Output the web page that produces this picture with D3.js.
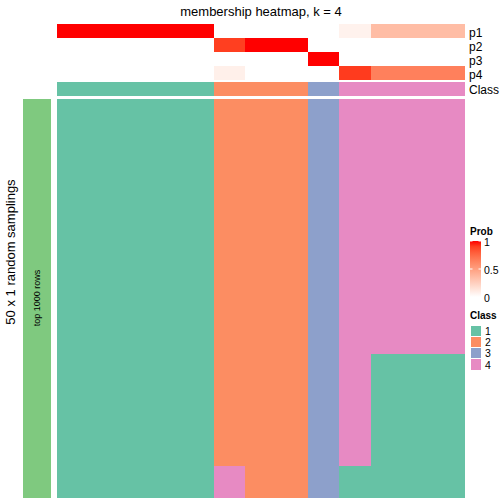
<!DOCTYPE html>
<html><head><meta charset="utf-8">
<script src="https://cdn.jsdelivr.net/npm/d3@7"></script>
<style>body{margin:0;background:#fff}svg{display:block;font-family:"Liberation Sans",Arial,sans-serif}rect{shape-rendering:crispEdges}</style>
</head><body><svg id="c" width="504" height="504"></svg>
<script>
// ---- data ----
const columns = ["c1","c2","c3","c4","c5","c6","c7","c8","c9","c10","c11","c12","c13"];
const classByColumn = [1,1,1,1,1,2,2,2,3,4,4,4,4];
const p1 = [1,1,1,1,1,0,0,0,0,0.07,0.35,0.35,0.35];
const p2 = [0,0,0,0,0,0.9,1,1,0,0,0,0,0];
const p3 = [0,0,0,0,0,0,0,0,1,0,0,0,0];
const p4 = [0,0,0,0,0,0.08,0,0,0,0.91,0.65,0.65,0.65];
const probRows = ["p1","p2","p3","p4"];
// per column: runs of [class, number of samplings] from top to bottom (50 samplings)
const bodyRuns = [
  [[1,50]],[[1,50]],[[1,50]],[[1,50]],[[1,50]],
  [[2,46],[4,4]],[[2,50]],[[2,50]],
  [[3,50]],
  [[4,46],[1,4]],[[4,32],[1,18]],[[4,32],[1,18]],[[4,32],[1,18]]
];
const nSamplings = 50;
const classes = [1,2,3,4];
const classColors = ["#66C2A5","#FC8D62","#8DA0CB","#E78AC3"];
const probTicks = [0,0.5,1];

// ---- drawing ----
const svg = d3.select("#c");
const x = d3.scaleBand().domain(columns).range([57,465]);
const yAnn = d3.scaleBand().domain(probRows).range([24,80]);
const yBody = d3.scaleBand().domain(d3.range(nSamplings)).range([99,498]);
const prob = d3.scaleLinear().domain([0,1]).range(["#FFFFFF","#FF0000"]).interpolate(d3.interpolateLab);
const cls = d3.scaleOrdinal().domain(classes).range(classColors);
const xl = d => Math.round(x(d));
const xw = d => Math.round(x(d)+x.bandwidth()) - Math.round(x(d));

svg.append("text").attr("x",261).attr("y",16).attr("text-anchor","middle")
  .attr("font-size",13).text("membership heatmap, k = 4");

const pData = [p1,p2,p3,p4];
probRows.forEach((r,i)=>{
  svg.append("g").selectAll("rect").data(columns).join("rect")
    .attr("x",xl).attr("y",yAnn(r)).attr("width",xw).attr("height",yAnn.bandwidth())
    .attr("fill",(d,j)=>prob(pData[i][j]));
  svg.append("text").attr("x",469).attr("y",yAnn(r)+yAnn.bandwidth()/2+1.5).attr("dy","0.36em")
    .attr("font-size",12).text(r);
});
svg.append("g").selectAll("rect").data(columns).join("rect")
  .attr("x",xl).attr("y",82).attr("width",xw).attr("height",14)
  .attr("fill",(d,j)=>cls(classByColumn[j]));
svg.append("text").attr("x",469).attr("y",89.5).attr("dy","0.36em").attr("font-size",12).text("Class");

// body
const cells = [];
columns.forEach((c,j)=>{
  let start = 0;
  bodyRuns[j].forEach(([k,n])=>{cells.push({c,k,start,n}); start+=n;});
});
svg.append("g").selectAll("rect").data(cells).join("rect")
  .attr("x",d=>xl(d.c)).attr("width",d=>xw(d.c))
  .attr("y",d=>Math.round(yBody(d.start))).attr("height",d=>Math.round(yBody(d.start)+d.n*yBody.step())-Math.round(yBody(d.start)))
  .attr("fill",d=>cls(d.k));

// side bar
svg.append("rect").attr("x",23).attr("y",99).attr("width",28).attr("height",399).attr("fill","#7FC97F");
svg.append("text").attr("transform","translate(40,298) rotate(-90)").attr("text-anchor","middle")
  .attr("font-size",9).text("top 1000 rows");
svg.append("text").attr("transform","translate(15,252) rotate(-90)").attr("text-anchor","middle")
  .attr("font-size",13).text("50 x 1 random samplings");

// legend Prob
svg.append("text").attr("x",470).attr("y",235).attr("font-size",10).attr("font-weight","bold").text("Prob");
const defs = svg.append("defs");
const grad = defs.append("linearGradient").attr("id","g").attr("x1",0).attr("y1",1).attr("x2",0).attr("y2",0);
d3.range(0,1.01,0.1).forEach(t=>grad.append("stop").attr("offset",t).attr("stop-color",prob(t)));
const ly = d3.scaleLinear().domain([0,1]).range([297,241]);
svg.append("rect").attr("x",470).attr("y",ly(1)).attr("width",11).attr("height",ly(0)-ly(1)).attr("fill","url(#g)");
probTicks.forEach(t=>{
  if(t>0){
    svg.append("line").attr("x1",470).attr("x2",472.5).attr("y1",ly(t)).attr("y2",ly(t)).attr("stroke","#fff");
    svg.append("line").attr("x1",478.5).attr("x2",481).attr("y1",ly(t)).attr("y2",ly(t)).attr("stroke","#fff");
  }
  svg.append("text").attr("x",484).attr("y",ly(t)+1).attr("dy","0.36em").attr("font-size",10.5).text(t);
});

// legend Class
svg.append("text").attr("x",470).attr("y",319).attr("font-size",10).attr("font-weight","bold").text("Class");
const lc = d3.scaleBand().domain(classes).range([325,370]);
svg.append("g").selectAll("rect").data(classes).join("rect")
  .attr("x",470).attr("y",d=>lc(d)).attr("width",11).attr("height",lc.bandwidth())
  .attr("fill",d=>cls(d)).attr("stroke","#fff").attr("stroke-width",1);
svg.append("g").selectAll("text").data(classes).join("text")
  .attr("x",485).attr("y",d=>lc(d)+lc.bandwidth()/2+0.5).attr("dy","0.36em").attr("font-size",10.5).text(d=>d);
</script></body></html>
